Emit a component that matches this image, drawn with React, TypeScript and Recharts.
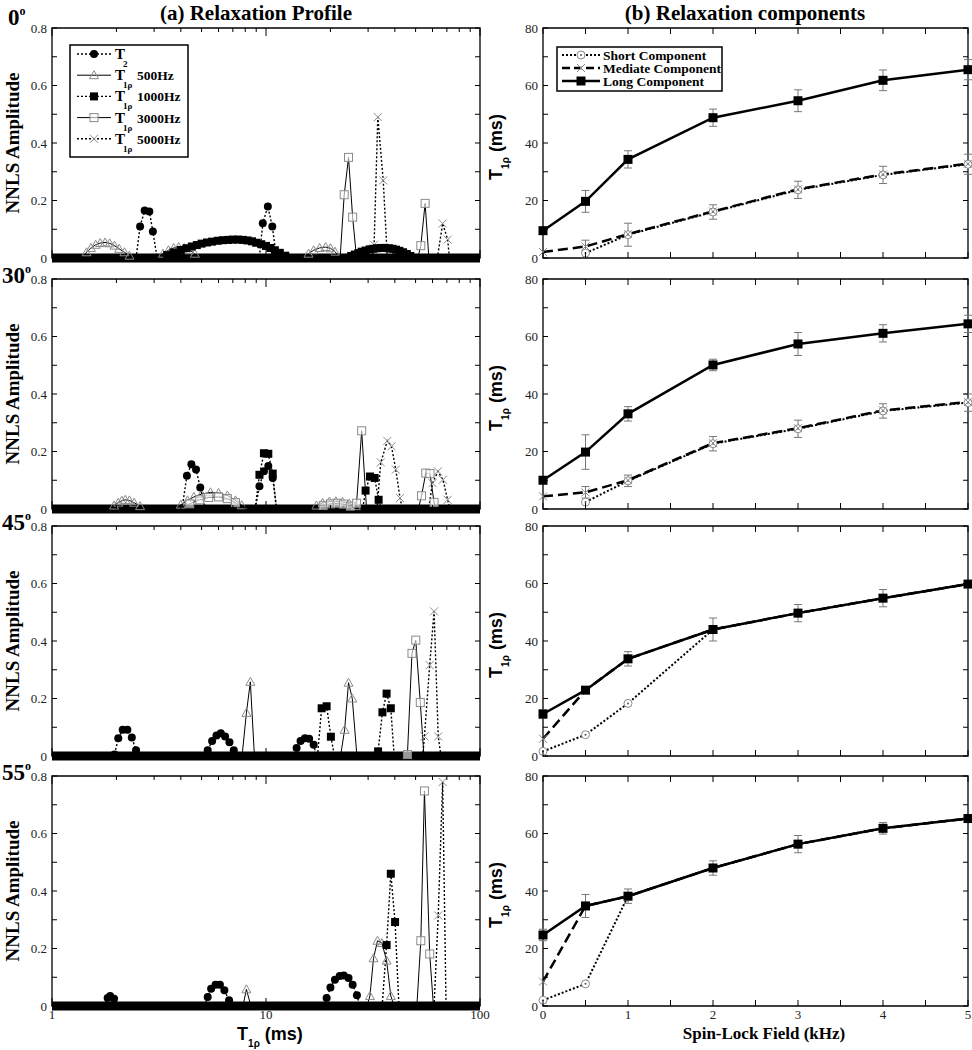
import React from "react";
import {
  LineChart,
  Line,
  XAxis,
  YAxis,
  ReferenceArea,
  ReferenceLine,
  ErrorBar,
} from "recharts";

const SERIF = '"Liberation Serif", "Times New Roman", serif';
const SANS = '"Liberation Sans", Arial, sans-serif';

// ---- (a) NNLS relaxation profiles, pairs of [T1rho (ms), amplitude]
const T2_0 = [[2.47, 0], [2.58, 0.11], [2.71, 0.165], [2.85, 0.162], [2.96, 0.092], [3.1, 0], [9.3, 0], [9.66, 0.121], [10.2, 0.179], [10.7, 0.11], [11.2, 0]];
const F500_0 = [[1.38, 0], [1.45, 0.02], [1.52, 0.035], [1.6, 0.046], [1.68, 0.052], [1.77, 0.054], [1.86, 0.051], [1.96, 0.043], [2.06, 0.032], [2.18, 0.02], [2.3, 0.008], [2.4, 0], [3.09, 0], [3.3, 0.015], [3.5, 0.027], [3.7, 0.035], [3.91, 0.038], [4.15, 0.035], [4.4, 0.027], [4.65, 0.015], [4.93, 0], [15, 0], [15.8, 0.015], [16.7, 0.027], [17.8, 0.035], [19, 0.038], [20, 0.034], [21, 0.022], [22.3, 0]];
const F1000_0 = [[3.2, 0], [3.45, 0.01], [3.7, 0.019], [4, 0.028], [4.25, 0.034], [4.5, 0.04], [4.75, 0.045], [5, 0.05], [5.3, 0.054], [5.6, 0.057], [5.95, 0.06], [6.3, 0.062], [6.65, 0.063], [7, 0.064], [7.4, 0.064], [7.8, 0.063], [8.2, 0.061], [8.6, 0.058], [9, 0.053], [9.5, 0.048], [10, 0.042], [10.5, 0.035], [11, 0.027], [11.6, 0.018], [12.3, 0.008], [13, 0], [24, 0], [25, 0.007], [26, 0.012], [27, 0.017], [28, 0.022], [29.2, 0.026], [30.5, 0.03], [31.7, 0.032], [33, 0.034], [34.5, 0.035], [36, 0.035], [37.5, 0.034], [39, 0.032], [40.5, 0.029], [42, 0.025], [43.7, 0.02], [45.5, 0.014], [47.3, 0.007], [49.2, 0]];
const F3000_0 = [[22.2, 0], [23.2, 0.22], [24.3, 0.35], [25.4, 0.142], [26.5, 0], [51.2, 0], [52.9, 0.043], [55.4, 0.19], [57.7, 0]];
const F5000_0 = [[31.3, 0], [32, 0.046], [33.3, 0.49], [35.3, 0.27], [36.9, 0], [63.2, 0], [66.9, 0.12], [70.6, 0.064], [72, 0]];

const T2_30 = [[4.05, 0], [4.27, 0.116], [4.48, 0.156], [4.71, 0.137], [4.93, 0.075], [5.2, 0], [8.9, 0], [9.32, 0.079], [9.78, 0.131], [10.25, 0.15], [10.75, 0.108], [11.2, 0]];
const F500_30 = [[1.87, 0], [1.95, 0.012], [2.04, 0.022], [2.12, 0.029], [2.2, 0.032], [2.3, 0.03], [2.42, 0.022], [2.58, 0.01], [2.78, 0], [3.77, 0], [4, 0.015], [4.3, 0.03], [4.6, 0.042], [5, 0.052], [5.5, 0.058], [6, 0.056], [6.6, 0.047], [7.2, 0.03], [7.7, 0.013], [8.16, 0], [16.2, 0], [17.2, 0.012], [18.4, 0.021], [19.8, 0.026], [21.2, 0.027], [22.8, 0.025], [24.5, 0.019], [26.3, 0.01], [28.2, 0]];
const F1000_30 = [[8.9, 0], [9.32, 0.119], [9.78, 0.194], [10.25, 0.192], [10.75, 0.123], [11.2, 0], [28.3, 0], [29.2, 0.064], [30.6, 0.113], [32.2, 0.108], [33.6, 0.032], [34.6, 0]];
const F3000_30 = [[4, 0], [4.4, 0.018], [4.9, 0.032], [5.4, 0.04], [6, 0.042], [6.6, 0.036], [7.2, 0.022], [7.8, 0], [17, 0], [18.5, 0.012], [20, 0.018], [21.5, 0.02], [23, 0.017], [24.8, 0.01], [26.5, 0.02], [28, 0.272], [29.5, 0], [51.5, 0], [53.3, 0.046], [55.8, 0.125], [58.4, 0.123], [61, 0.023], [62, 0]];
const F5000_30 = [[33, 0], [34.4, 0.162], [36.9, 0.237], [38.6, 0.218], [40.4, 0.137], [42.3, 0.038], [43.4, 0], [57.5, 0], [60, 0.09], [63.6, 0.131], [67.1, 0.102], [70.6, 0.032], [72.5, 0]];

const T2_45 = [[1.9, 0], [1.96, 0.005], [2.04, 0.062], [2.14, 0.091], [2.25, 0.091], [2.36, 0.064], [2.47, 0.02], [2.55, 0], [5.2, 0], [5.34, 0.02], [5.6, 0.052], [5.87, 0.071], [6.15, 0.079], [6.44, 0.068], [6.75, 0.048], [7.07, 0.02], [7.3, 0], [13.5, 0], [13.9, 0.028], [14.5, 0.052], [15.2, 0.062], [15.9, 0.06], [16.7, 0.039], [17.2, 0]];
const F500_45 = [[7.73, 0], [8.1, 0.15], [8.45, 0.258], [8.83, 0], [22.3, 0], [23.3, 0.091], [24.3, 0.255], [25.3, 0.2], [26.6, 0]];
const F1000_45 = [[17.4, 0], [18.2, 0.166], [19.2, 0.173], [20.1, 0.067], [20.9, 0], [32.5, 0], [33.4, 0.016], [35, 0.152], [36.6, 0.217], [38.3, 0.166], [39.7, 0]];
const F3000_45 = [[44.5, 0], [45.8, 0.005], [48.1, 0.357], [50.1, 0.403], [52.6, 0.186], [54.7, 0]];
const F5000_45 = [[54, 0], [55, 0.068], [58.2, 0.316], [61, 0.503], [63.8, 0.068], [65.7, 0]];

const T2_55 = [[1.74, 0], [1.82, 0.028], [1.87, 0.035], [1.95, 0.025], [2.03, 0], [5.15, 0], [5.34, 0.031], [5.54, 0.06], [5.81, 0.074], [6.09, 0.074], [6.39, 0.055], [6.72, 0.02], [6.9, 0], [18.6, 0], [19.2, 0.028], [20, 0.064], [21, 0.091], [22.1, 0.104], [23.1, 0.106], [24.3, 0.097], [25.4, 0.074], [26.6, 0.037], [27.5, 0]];
const F500_55 = [[7.81, 0], [8.1, 0.058], [8.5, 0], [29.6, 0], [30.6, 0.035], [31.8, 0.166], [33.2, 0.227], [34.8, 0.219], [36.6, 0.158], [38.3, 0.035], [39.7, 0]];
const F1000_55 = [[34.9, 0], [36.6, 0.212], [38.3, 0.46], [40.1, 0.292], [41.8, 0]];
const F3000_55 = [[50.7, 0], [52.9, 0.227], [55, 0.748], [58.2, 0.181], [60.6, 0]];
const F5000_55 = [[61, 0], [63.8, 0.315], [66.9, 0.779], [69.4, 0]];

// ---- (b) relaxation components vs spin-lock field
const KHZ = [0, 0.5, 1, 2, 3, 4, 5];

const SHORT_0 = [null, 1.7, 8.1, 16, 23.7, 28.9, 32.6];
const SHORT_ERR_0 = [0, 0, 4, 2.5, 3, 3, 3.5];
const MED_0 = [2.1, 4.0, 8.3, 16.2, 23.9, 29.1, 32.8];
const MED_ERR_0 = [0, 2.2, 0, 0, 0, 0, 0];
const LONG_0 = [9.5, 19.7, 34.3, 48.8, 54.7, 61.8, 65.5];
const LONG_ERR_0 = [0, 3.8, 3, 3, 3.8, 3.6, 3.5];

const SHORT_30 = [null, 2.4, 9.8, 22.7, 27.9, 34.1, 37.0];
const SHORT_ERR_30 = [0, 0, 2, 2.5, 3, 2.5, 3];
const MED_30 = [4.4, 5.8, 10, 22.9, 28.1, 34.3, 37.2];
const MED_ERR_30 = [0, 2, 0, 0, 0, 0, 0];
const LONG_30 = [10, 19.8, 33.1, 50.1, 57.4, 61.1, 64.4];
const LONG_ERR_30 = [0, 6, 2.5, 2, 4, 3, 3];

const SHORT_45 = [1.6, 7.4, 18.3, 44, 49.7, 54.9, 59.8];
const SHORT_ERR_45 = [0, 0, 0, 0, 0, 0, 0];
const MED_45 = [6.0, 22.9, 33.8, 44, 49.7, 54.9, 59.8];
const MED_ERR_45 = [0, 0, 0, 0, 0, 0, 0];
const LONG_45 = [14.6, 22.9, 33.8, 44, 49.7, 54.9, 59.8];
const LONG_ERR_45 = [1.5, 0, 2.5, 4, 3, 3, 0];

const SHORT_55 = [2.0, 7.7, 38.2, 48, 56.3, 61.8, 65.2];
const SHORT_ERR_55 = [0, 0, 0, 0, 0, 0, 0];
const MED_55 = [8.5, 34.8, 38.2, 48, 56.3, 61.8, 65.2];
const MED_ERR_55 = [0, 0, 0, 0, 0, 0, 0];
const LONG_55 = [24.7, 34.8, 38.2, 48, 56.3, 61.8, 65.2];
const LONG_ERR_55 = [2, 4, 2.5, 2.5, 3, 2, 1];

const ANGLES = ["0", "30", "45", "55"];

const LOG_TICKS = [1, 2, 3, 4, 5, 6, 7, 8, 9, 10, 20, 30, 40, 50, 60, 70, 80, 90, 100];
const LOG_LABELS = [1, 10, 100];
const AMP_TICKS = [0, 0.1, 0.2, 0.3, 0.4, 0.5, 0.6, 0.7, 0.8];
const AMP_LABELS = [0, 0.2, 0.4, 0.6, 0.8];
const KHZ_TICKS = [0, 0.5, 1, 1.5, 2, 2.5, 3, 3.5, 4, 4.5, 5];
const KHZ_LABELS = [0, 1, 2, 3, 4, 5];
const MS_TICKS = [0, 10, 20, 30, 40, 50, 60, 70, 80];
const MS_LABELS = [0, 20, 40, 60, 80];

const PROFILES = [
  [T2_0, F500_0, F1000_0, F3000_0, F5000_0],
  [T2_30, F500_30, F1000_30, F3000_30, F5000_30],
  [T2_45, F500_45, F1000_45, F3000_45, F5000_45],
  [T2_55, F500_55, F1000_55, F3000_55, F5000_55],
];

const COMPONENTS = [
  [SHORT_0, SHORT_ERR_0, MED_0, MED_ERR_0, LONG_0, LONG_ERR_0],
  [SHORT_30, SHORT_ERR_30, MED_30, MED_ERR_30, LONG_30, LONG_ERR_30],
  [SHORT_45, SHORT_ERR_45, MED_45, MED_ERR_45, LONG_45, LONG_ERR_45],
  [SHORT_55, SHORT_ERR_55, MED_55, MED_ERR_55, LONG_55, LONG_ERR_55],
];

// layout
const PLOT_TOPS = [28, 279, 526, 776];
const PLOT_H = 230;
const A_LEFT = 52;
const A_W = 428;
const B_LEFT = 543;
const B_W = 425;
const PAD_TOP = 10;
const X_AX_H = 30;

type Shape = "circle" | "tri" | "sqFill" | "sqOpen" | "x" | "ocirc" | "bigSq";

function marker(shape: Shape, cx: number, cy: number) {
  const g = "#8a8a8a";
  switch (shape) {
    case "circle":
      return <circle cx={cx} cy={cy} r={4} fill="#000" />;
    case "tri":
      return (
        <polygon
          points={`${cx},${cy - 4.5} ${cx - 4.5},${cy + 3.5} ${cx + 4.5},${cy + 3.5}`}
          fill="none"
          stroke={g}
          strokeWidth={1}
        />
      );
    case "sqFill":
      return <rect x={cx - 4} y={cy - 4} width={8} height={8} fill="#000" />;
    case "sqOpen":
      return <rect x={cx - 4} y={cy - 4} width={8} height={8} fill="#fff" fillOpacity={0.6} stroke={g} strokeWidth={1} />;
    case "x":
      return (
        <g stroke={g} strokeWidth={1}>
          <line x1={cx - 4} y1={cy - 4} x2={cx + 4} y2={cy + 4} />
          <line x1={cx - 4} y1={cy + 4} x2={cx + 4} y2={cy - 4} />
        </g>
      );
    case "ocirc":
      return (
        <g>
          <circle cx={cx} cy={cy} r={4} fill="#fff" stroke={g} strokeWidth={1} />
          <circle cx={cx} cy={cy} r={1} fill="#555" />
        </g>
      );
    case "bigSq":
      return <rect x={cx - 4.5} y={cy - 4.5} width={9} height={9} fill="#000" />;
  }
  return null;
}

// zero-valued profile points sit inside the black baseline band, so skip them
const dotOf = (shape: Shape, hideZero = false) => (p: any) => {
  const { cx, cy, index, value } = p;
  if (cx == null || cy == null || Number.isNaN(cy) || value == null || (hideZero && value === 0))
    return <g key={`m${index}`} />;
  return <g key={`m${index}`}>{marker(shape, cx, cy)}</g>;
};

const near = (arr: number[], v: number) => arr.some((a) => Math.abs(a - v) < 1e-6);

function xTick(labels: number[], show: boolean, majorLen: number, minorLen: number) {
  return (p: any) => {
    const { x, y, payload } = p;
    const v = payload.value;
    const major = near(labels, v);
    const len = major ? majorLen : minorLen;
    return (
      <g>
        <line x1={x} x2={x} y1={y} y2={y - len} stroke="#000" strokeWidth={1} />
        <line x1={x} x2={x} y1={y - PLOT_H} y2={y - PLOT_H + len} stroke="#000" strokeWidth={1} />
        {show && major ? (
          <text x={x} y={y + 13} textAnchor="middle" fontFamily={SERIF} fontSize={13} fill="#222">
            {v}
          </text>
        ) : null}
      </g>
    );
  };
}

function yTick(labels: number[], width: number, fmt: (v: number) => string) {
  return (p: any) => {
    const { x, y, payload } = p;
    const v = payload.value;
    const major = near(labels, v);
    return (
      <g>
        <line x1={x} x2={x + 5} y1={y} y2={y} stroke="#000" strokeWidth={1} />
        <line x1={x + width} x2={x + width - 5} y1={y} y2={y} stroke="#000" strokeWidth={1} />
        {major ? (
          <text x={x - 5} y={y + 4.5} textAnchor="end" fontFamily={SERIF} fontSize={13} fill="#222">
            {fmt(v)}
          </text>
        ) : null}
      </g>
    );
  };
}

const PROFILE_STYLE: { shape: Shape; dash?: string; w: number }[] = [
  { shape: "circle", dash: "2 2", w: 1.4 },
  { shape: "tri", w: 1 },
  { shape: "sqFill", dash: "2 2", w: 1.4 },
  { shape: "sqOpen", w: 1 },
  { shape: "x", dash: "2 2", w: 1.4 },
];
const DRAW_ORDER = [1, 3, 4, 2, 0];

function ProfileChart({ row }: { row: number }) {
  const series = PROFILES[row];
  const last = row === PROFILES.length - 1;
  return (
    <LineChart
      width={A_LEFT + A_W + 10}
      height={PAD_TOP + PLOT_H + X_AX_H}
      margin={{ top: PAD_TOP, right: 10, bottom: 0, left: A_LEFT - 1 }}
    >
      <XAxis
        dataKey="t"
        type="number"
        scale="log"
        domain={[1, 100]}
        ticks={LOG_TICKS}
        interval={0}
        height={X_AX_H}
        axisLine={false}
        tickLine={false}
        tickSize={0}
        tickMargin={0}
        tick={xTick(LOG_LABELS, last, 8, 4)}
      />
      <YAxis
        type="number"
        domain={[0, 0.8]}
        ticks={AMP_TICKS}
        interval={0}
        width={1}
        axisLine={false}
        tickLine={false}
        tickSize={0}
        tickMargin={0}
        tick={yTick(AMP_LABELS, A_W, (v) => (v === 0 ? "0" : v.toFixed(1)))}
      />
      <ReferenceArea x1={1} x2={100} y1={0} y2={0.8} fill="none" stroke="#000" strokeWidth={1.3} />
      {DRAW_ORDER.map((si) => {
        const st = PROFILE_STYLE[si];
        return (
          <Line
            key={si}
            data={series[si].map(([t, v]) => ({ t, v }))}
            dataKey="v"
            type="linear"
            stroke="#000"
            strokeWidth={st.w}
            strokeDasharray={st.dash}
            dot={dotOf(st.shape, true)}
            activeDot={false}
            isAnimationActive={false}
          />
        );
      })}
      <ReferenceLine y={0} stroke="#000" strokeWidth={9} />
    </LineChart>
  );
}

function ComponentChart({ row }: { row: number }) {
  const [sh, shE, md, mdE, lg, lgE] = COMPONENTS[row];
  const last = row === COMPONENTS.length - 1;
  const rows = KHZ.map((k, i) => ({
    k,
    short: sh[i],
    shortErr: shE[i] ? shE[i] : null,
    med: md[i],
    medErr: mdE[i] ? mdE[i] : null,
    long: lg[i],
    longErr: lgE[i] ? lgE[i] : null,
  }));
  return (
    <LineChart
      width={B_LEFT - 490 + B_W + 4}
      height={PAD_TOP + PLOT_H + X_AX_H}
      data={rows}
      margin={{ top: PAD_TOP, right: 4, bottom: 0, left: B_LEFT - 490 - 1 }}
    >
      <XAxis
        dataKey="k"
        type="number"
        domain={[0, 5]}
        ticks={KHZ_TICKS}
        interval={0}
        height={X_AX_H}
        axisLine={false}
        tickLine={false}
        tickSize={0}
        tickMargin={0}
        tick={xTick(KHZ_LABELS, last, 6, 6)}
      />
      <YAxis
        type="number"
        domain={[0, 80]}
        ticks={MS_TICKS}
        interval={0}
        width={1}
        axisLine={false}
        tickLine={false}
        tickSize={0}
        tickMargin={0}
        tick={yTick(MS_LABELS, B_W, (v) => String(v))}
      />
      <ReferenceArea x1={0} x2={5} y1={0} y2={80} fill="none" stroke="#000" strokeWidth={1.3} />
      <Line
        dataKey="short"
        type="linear"
        stroke="#000"
        strokeWidth={2}
        strokeDasharray="2 2"
        dot={dotOf("ocirc")}
        activeDot={false}
        isAnimationActive={false}
      >
        <ErrorBar dataKey="shortErr" direction="y" width={4} stroke="#777" strokeWidth={1} />
      </Line>
      <Line
        dataKey="med"
        type="linear"
        stroke="#000"
        strokeWidth={2.5}
        strokeDasharray="10 5"
        dot={dotOf("x")}
        activeDot={false}
        isAnimationActive={false}
      >
        <ErrorBar dataKey="medErr" direction="y" width={4} stroke="#777" strokeWidth={1} />
      </Line>
      <Line
        dataKey="long"
        type="linear"
        stroke="#000"
        strokeWidth={2.5}
        dot={dotOf("bigSq")}
        activeDot={false}
        isAnimationActive={false}
      >
        <ErrorBar dataKey="longErr" direction="y" width={4} stroke="#777" strokeWidth={1} />
      </Line>
    </LineChart>
  );
}

const A_LEGEND = [
  { sub: "2", text: "", style: 0 },
  { sub: "1\u03c1", text: "500Hz", style: 1 },
  { sub: "1\u03c1", text: "1000Hz", style: 2 },
  { sub: "1\u03c1", text: "3000Hz", style: 3 },
  { sub: "1\u03c1", text: "5000Hz", style: 4 },
];

const B_LEGEND: { label: string; shape: Shape; dash?: string; w: number }[] = [
  { label: "Short Component", shape: "ocirc", dash: "2 2", w: 2 },
  { label: "Mediate Component", shape: "x", dash: "8 4", w: 2.5 },
  { label: "Long Component", shape: "bigSq", w: 2.5 },
];

function Overlay() {
  const bold = { fontFamily: SERIF, fontWeight: 700 } as const;
  return (
    <svg width={972} height={1050} style={{ position: "absolute", left: 0, top: 0, pointerEvents: "none" }}>
      <text x={256} y={20} textAnchor="middle" fontSize={21} {...bold}>
        (a) Relaxation Profile
      </text>
      <text x={745} y={20} textAnchor="middle" fontSize={21} {...bold}>
        (b) Relaxation components
      </text>
      {ANGLES.map((a, i) => (
        <text key={a} x={a.length > 1 ? 2 : 8} y={PLOT_TOPS[i] + (i === 0 ? -3 : 4)} fontSize={23} {...bold}>
          {a}
          <tspan fontSize={12} dy={-10}>
            o
          </tspan>
        </text>
      ))}
      {PLOT_TOPS.map((top) => (
        <g key={top}>
          <text
            transform={`translate(19, ${top + PLOT_H / 2}) rotate(-90)`}
            textAnchor="middle"
            fontSize={19}
            {...bold}
          >
            NNLS Amplitude
          </text>
          <text
            transform={`translate(502, ${top + 119}) rotate(-90)`}
            textAnchor="middle"
            fontSize={18}
            fontFamily={SANS}
            fontWeight={700}
          >
            T
            <tspan fontSize={10} dy={7}>
              {"1\u03c1"}
            </tspan>
            <tspan dy={-7}>{" (ms)"}</tspan>
          </text>
        </g>
      ))}
      <text x={270} y={1040} textAnchor="middle" fontSize={18} fontFamily={SANS} fontWeight={700}>
        T
        <tspan fontSize={10} dy={7}>
          {"1\u03c1"}
        </tspan>
        <tspan dy={-7}>{" (ms)"}</tspan>
      </text>
      <text x={764} y={1039} textAnchor="middle" fontSize={17} {...bold}>
        Spin-Lock Field (kHz)
      </text>

      {/* legend (a) */}
      <rect x={70} y={45} width={118} height={112} fill="#fff" stroke="#000" strokeWidth={1.5} />
      {A_LEGEND.map((e, i) => {
        const y = 54 + i * 21.2;
        const st = PROFILE_STYLE[e.style];
        return (
          <g key={i}>
            <line x1={77} x2={111} y1={y} y2={y} stroke="#000" strokeWidth={st.w} strokeDasharray={st.dash} />
            {marker(st.shape, 94, y)}
            <text x={115} y={y + 5} fontSize={15} {...bold}>
              T
            </text>
            <text x={123} y={y + 13} fontSize={9} {...bold}>
              {e.sub}
            </text>
            {e.text ? (
              <text x={137} y={y + 5} fontSize={13.5} {...bold}>
                {e.text}
              </text>
            ) : null}
          </g>
        );
      })}

      {/* legend (b) */}
      <rect x={557} y={47} width={165} height={44} fill="#fff" stroke="#000" strokeWidth={1.5} />
      {B_LEGEND.map((e, i) => {
        const y = 55 + i * 13;
        return (
          <g key={e.label}>
            <line x1={562} x2={600} y1={y} y2={y} stroke="#000" strokeWidth={e.w} strokeDasharray={e.dash} />
            {marker(e.shape, 581, y)}
            <text x={603} y={y + 4.5} fontSize={13.5} {...bold}>
              {e.label}
            </text>
          </g>
        );
      })}
    </svg>
  );
}

export default function App() {
  return (
    <div style={{ position: "absolute", left: 0, top: 0, width: 972, height: 1050, background: "#fff" }}>
      {PLOT_TOPS.map((top, i) => (
        <div key={`a${i}`} style={{ position: "absolute", left: 0, top: top - PAD_TOP }}>
          <ProfileChart row={i} />
        </div>
      ))}
      {PLOT_TOPS.map((top, i) => (
        <div key={`b${i}`} style={{ position: "absolute", left: 490, top: top - PAD_TOP }}>
          <ComponentChart row={i} />
        </div>
      ))}
      <Overlay />
    </div>
  );
}
